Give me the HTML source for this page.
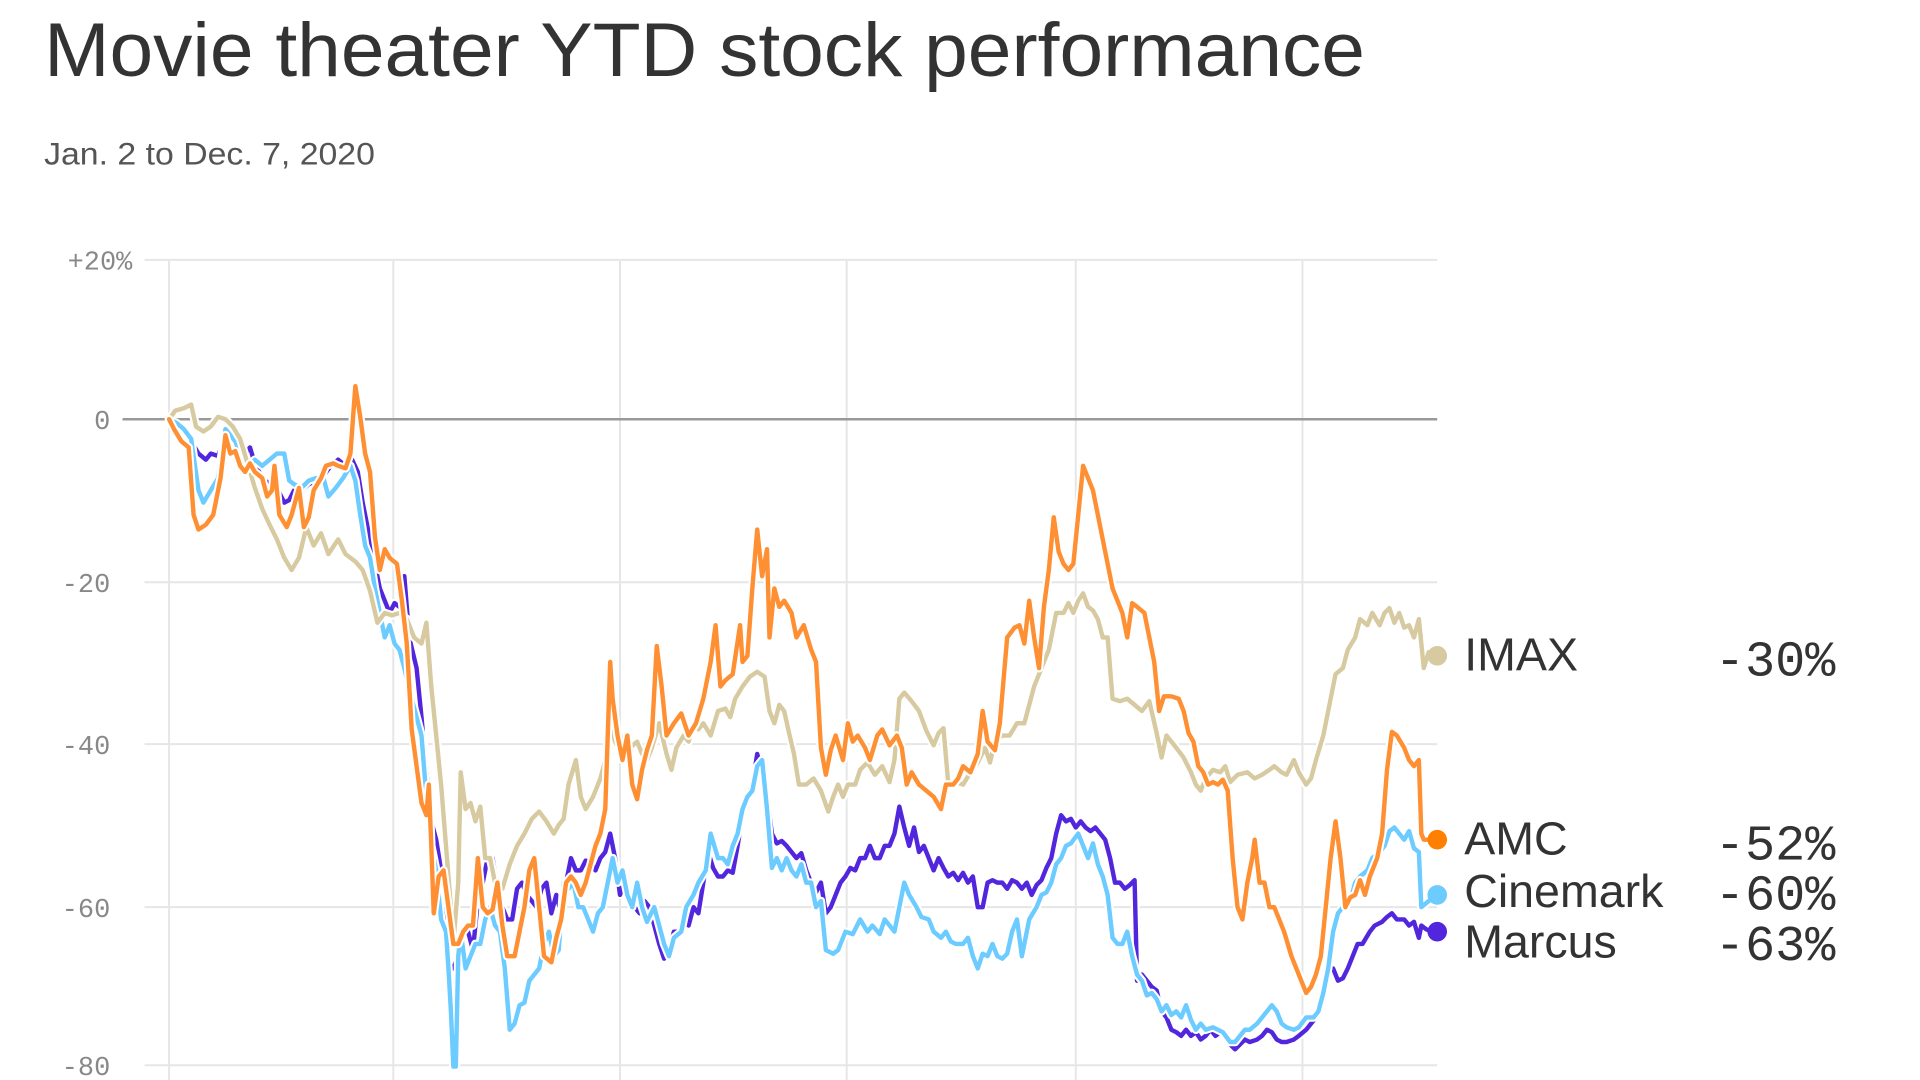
<!DOCTYPE html>
<html><head><meta charset="utf-8"><style>
html,body{margin:0;padding:0;background:#fff;width:1920px;height:1080px;overflow:hidden}
svg{display:block}
</style></head><body>
<svg width="1920" height="1080" viewBox="0 0 1567 881" preserveAspectRatio="none" xmlns="http://www.w3.org/2000/svg">
<defs>
<polyline id="mar" points="138,342 144,348 150,352 156,360 162,370 168,375 172,370 178,372 184,355 190,360 196,365 200,370 204,365 208,378 214,390 220,395 226,398 232,410 236,408 240,400 246,400 252,395 258,392 264,388 270,380 276,375 282,380 286,372 292,385 296,410 300,430 304,450 310,480 314,490 318,500 322,492 326,495 330,470 334,520 340,545 344,585 348,630 352,670 356,685 360,710 364,755 366,785 370,790 374,780 378,760 382,760 386,775 390,735 394,720 398,700 402,700 406,725 410,740 414,750 418,750 422,725 426,720 430,730 434,735 438,740 442,725 446,720 450,745 454,730 458,745 462,720 466,700 470,710 474,710 478,702 482,704 486,710 490,700 494,695 498,680 502,700 506,730 510,720 514,730 518,740 522,745 526,735 530,740 534,755 538,770 542,782 546,775 550,760 554,760 558,750 562,755 566,740 570,745 574,720 578,695 582,708 586,715 590,715 594,710 598,712 602,690 606,665 610,650 614,640 618,615 622,630 626,650 630,680 634,688 638,686 642,690 646,695 650,700 654,696 658,710 662,720 666,728 670,720 674,745 678,740 682,730 686,720 690,715 694,708 698,710 702,700 706,700 710,690 714,700 718,700 722,690 726,690 730,680 734,658 738,675 742,690 746,675 750,695 754,690 758,700 762,710 766,700 770,708 774,715 778,712 782,718 786,712 790,720 794,715 798,740 802,740 806,720 810,718 814,720 818,720 822,725 826,718 830,720 834,725 838,720 842,730 846,722 850,718 854,708 858,700 862,680 866,665 870,670 874,668 878,675 882,670 886,675 890,678 894,675 898,680 902,685 906,700 910,720 914,720 918,725 922,722 926,718 928,800 932,795 936,800 940,805 944,808 948,825 952,830 956,840 960,842 964,845 968,840 972,845 976,842 980,848 984,845 988,840 992,845 996,842 1000,845 1004,852 1008,856 1012,852 1016,848 1020,850 1026,848 1030,845 1034,840 1038,842 1042,848 1046,850 1050,850 1056,848 1060,845 1066,840 1070,835 1074,830 1078,815 1084,790 1088,790 1092,800 1096,798 1100,790 1104,780 1108,770 1112,770 1118,760 1122,755 1128,752 1132,748 1136,745 1140,750 1146,750 1150,755 1154,752 1158,765 1160,755 1164,758 1168,760 1173,760"/>
<polyline id="cin" points="138,342 144,345 150,350 156,358 162,400 166,410 172,400 178,390 184,350 188,355 192,360 196,370 200,372 204,380 208,375 214,380 220,375 226,370 232,370 236,392 240,395 246,398 252,392 258,390 264,390 268,405 274,398 280,390 286,380 290,392 294,420 298,445 302,455 306,480 310,500 314,520 318,510 322,525 326,530 330,545 336,570 340,585 344,600 348,650 352,690 356,710 360,750 364,760 366,790 368,825 370,870 372,870 374,780 376,760 380,790 384,780 388,770 392,770 396,750 400,740 404,755 408,760 412,790 416,840 420,835 424,820 428,818 432,800 436,795 440,790 444,770 448,760 452,780 456,775 460,720 464,725 468,720 472,740 476,740 480,750 484,760 488,745 492,740 496,720 500,700 504,720 508,710 512,730 516,740 520,720 524,740 528,752 534,740 538,755 542,770 546,780 550,765 556,760 560,740 566,730 570,720 576,710 580,680 586,700 590,700 594,705 598,690 602,680 606,660 610,650 614,645 618,625 622,620 626,660 630,708 634,700 638,710 642,700 646,710 650,715 654,705 658,720 662,720 666,740 670,735 674,775 680,778 684,775 690,760 696,762 702,750 708,760 712,755 718,762 722,750 726,755 730,760 734,740 738,720 742,730 748,740 752,748 758,750 762,760 768,765 772,760 776,768 780,770 786,770 790,765 794,780 798,790 802,778 806,780 810,770 814,780 818,782 822,778 826,760 830,750 834,780 840,750 846,740 850,730 854,728 858,720 862,705 866,700 870,690 874,688 880,680 884,690 888,700 892,688 896,705 900,715 904,730 908,765 912,770 916,770 920,760 924,780 928,795 932,800 936,812 940,810 944,815 948,825 952,820 956,828 960,825 964,830 968,820 972,832 976,840 980,835 984,840 990,838 994,840 998,842 1004,850 1008,850 1012,845 1016,840 1020,840 1026,835 1030,830 1034,825 1038,820 1042,825 1046,835 1050,838 1056,840 1060,838 1066,830 1072,830 1076,825 1080,810 1084,790 1088,760 1092,745 1096,740 1102,735 1106,720 1110,715 1116,710 1120,700 1126,695 1130,690 1134,678 1138,675 1142,680 1146,685 1150,678 1154,692 1158,695 1160,740 1166,735 1173,730"/>
<polyline id="imax" points="138,342 143,335 150,333 156,330 160,348 166,352 172,348 178,340 184,342 190,348 196,358 202,378 208,398 214,415 220,428 226,440 232,455 238,465 244,455 250,430 256,445 262,435 268,452 276,440 282,452 290,458 296,465 302,482 308,508 314,500 320,502 326,500 332,505 338,520 344,525 348,508 352,560 356,600 360,640 364,690 368,740 370,770 374,720 376,630 380,660 384,655 388,670 392,658 396,700 400,700 404,720 410,725 416,705 422,690 428,680 434,668 440,662 446,670 452,680 456,673 460,668 464,640 470,620 474,650 478,660 484,650 490,635 494,620 498,590 502,605 506,612 510,600 514,610 520,605 524,615 528,620 532,610 538,590 544,615 548,628 552,610 558,600 562,605 566,590 570,595 574,590 580,600 586,580 592,578 596,585 600,570 606,560 612,552 618,548 624,552 628,580 632,590 636,575 640,580 644,598 648,615 652,640 658,640 664,635 670,645 676,662 680,650 684,640 688,650 692,640 698,640 702,628 708,622 714,632 720,625 726,638 730,620 734,570 738,565 744,572 750,580 756,596 762,608 766,598 770,594 774,640 780,638 786,640 792,630 798,622 804,610 808,622 812,605 818,600 824,600 830,590 836,590 840,575 844,560 848,550 852,540 856,530 862,500 868,500 872,492 876,500 880,490 884,484 888,495 892,498 896,505 900,520 904,520 908,570 914,572 920,570 926,575 932,580 938,572 944,598 948,618 952,600 960,610 966,618 972,630 976,640 980,645 984,635 990,628 996,630 1000,625 1004,638 1010,632 1018,630 1024,635 1030,632 1036,628 1040,625 1046,630 1050,632 1056,620 1060,630 1066,640 1070,635 1074,620 1080,600 1086,570 1090,550 1096,545 1100,530 1106,520 1110,505 1116,510 1120,500 1126,510 1130,500 1134,496 1138,508 1142,500 1146,512 1150,510 1154,520 1158,505 1162,545 1166,532 1170,540 1173,535"/>
<polyline id="amc" points="138,342 142,350 148,360 154,365 158,420 162,432 168,428 174,420 180,390 184,355 188,370 192,368 196,380 200,385 204,378 208,385 214,390 218,405 222,400 224,380 228,420 234,430 238,420 244,398 248,430 252,422 256,400 262,390 266,380 272,378 276,380 282,382 286,370 290,315 294,340 298,370 302,385 306,438 310,465 314,448 318,455 324,460 328,490 332,525 336,595 340,625 344,655 348,665 350,640 352,690 354,745 358,715 362,710 366,740 370,770 374,770 378,760 382,755 386,755 390,700 394,740 398,745 402,742 406,720 410,755 414,780 420,780 424,760 428,740 432,710 436,700 440,740 444,780 450,785 454,765 458,750 462,720 466,715 470,720 474,730 478,720 482,705 486,690 490,680 494,660 498,540 500,570 504,600 508,620 512,600 516,640 520,652 524,628 528,612 532,600 536,527 540,560 544,600 550,590 556,582 562,600 568,590 574,570 580,540 584,510 588,560 592,555 598,550 604,510 606,540 610,535 614,480 618,432 622,470 626,448 628,520 632,480 636,495 640,490 646,500 650,520 656,510 662,530 666,540 670,610 674,632 678,612 682,600 688,620 692,590 696,605 700,600 706,610 710,620 716,600 720,595 726,608 732,600 736,610 740,640 744,630 750,640 756,645 762,650 768,660 772,640 778,640 782,635 786,625 792,630 798,615 802,580 806,605 812,612 816,590 822,520 828,512 832,510 836,525 840,490 844,520 848,545 852,495 856,465 860,422 864,450 868,460 872,465 876,460 880,420 884,380 888,390 892,400 896,420 900,440 904,460 908,480 912,490 916,500 920,520 924,492 928,495 934,500 938,520 942,540 946,580 950,568 956,568 962,570 966,580 970,598 974,605 978,625 982,630 986,640 990,638 994,640 998,636 1002,645 1006,700 1010,740 1014,750 1018,720 1022,700 1024,685 1028,720 1032,720 1036,740 1040,740 1044,750 1048,760 1054,780 1060,795 1066,810 1070,805 1074,795 1078,780 1082,740 1086,700 1090,670 1094,700 1098,740 1102,732 1106,730 1110,718 1114,730 1118,715 1124,700 1128,680 1132,628 1136,597 1140,600 1146,610 1150,620 1154,625 1158,620 1160,680 1162,685 1168,685 1173,685"/>
</defs>
<text x="36" y="62" font-family="Liberation Sans, sans-serif" font-size="62" fill="#333" textLength="1078" lengthAdjust="spacingAndGlyphs">Movie theater YTD stock performance</text>
<text x="36" y="134" font-family="Liberation Sans, sans-serif" font-size="26" fill="#555" textLength="270" lengthAdjust="spacingAndGlyphs">Jan. 2 to Dec. 7, 2020</text>
<g stroke="#e6e6e6" stroke-width="1.6">
<line x1="118" y1="212" x2="1173" y2="212"/>
<line x1="118" y1="475" x2="1173" y2="475"/>
<line x1="118" y1="607" x2="1173" y2="607"/>
<line x1="118" y1="740" x2="1173" y2="740"/>
<line x1="118" y1="869" x2="1173" y2="869"/>
<line x1="138" y1="212" x2="138" y2="881"/>
<line x1="321" y1="212" x2="321" y2="881"/>
<line x1="506" y1="212" x2="506" y2="881"/>
<line x1="691" y1="212" x2="691" y2="881"/>
<line x1="878" y1="212" x2="878" y2="881"/>
<line x1="1063" y1="212" x2="1063" y2="881"/>
</g>
<line x1="100" y1="342" x2="1173" y2="342" stroke="#999" stroke-width="2"/>
<g font-family="Liberation Mono, monospace" font-size="22" fill="#888" text-anchor="end">
<text x="108" y="220">+20%</text>
<text x="90" y="350">0</text>
<text x="90" y="483">-20</text>
<text x="90" y="615">-40</text>
<text x="90" y="748">-60</text>
<text x="90" y="877">-80</text>
</g>
<g fill="none" stroke-linejoin="round" stroke-linecap="round">
<use href="#mar" stroke="#fff" stroke-width="7"/>
<use href="#mar" stroke="#5226dd" stroke-width="3.6"/>
<use href="#cin" stroke="#fff" stroke-width="7"/>
<use href="#cin" stroke="#6ccbff" stroke-width="3.6"/>
<use href="#imax" stroke="#fff" stroke-width="7"/>
<use href="#imax" stroke="#d7caa0" stroke-width="3.6"/>
<use href="#amc" stroke="#fff" stroke-width="7"/>
<use href="#amc" stroke="#ff8f33" stroke-width="3.6"/>
</g>
<circle cx="1173" cy="535" r="8" fill="#d7caa0"/>
<circle cx="1173" cy="685" r="8" fill="#ff7f00"/>
<circle cx="1173" cy="730" r="8" fill="#6ccbff"/>
<circle cx="1173" cy="760" r="8" fill="#5226dd"/>
<g font-family="Liberation Sans, sans-serif" font-size="38" fill="#333">
<text x="1195" y="547">IMAX</text>
<text x="1195" y="697">AMC</text>
<text x="1195" y="740">Cinemark</text>
<text x="1195" y="781">Marcus</text>
</g>
<g font-family="Liberation Mono, monospace" font-size="41" fill="#333" text-anchor="end">
<text x="1498" y="551">-30%</text>
<text x="1498" y="701">-52%</text>
<text x="1498" y="742">-60%</text>
<text x="1498" y="783">-63%</text>
</g>
</svg>
</body></html>
